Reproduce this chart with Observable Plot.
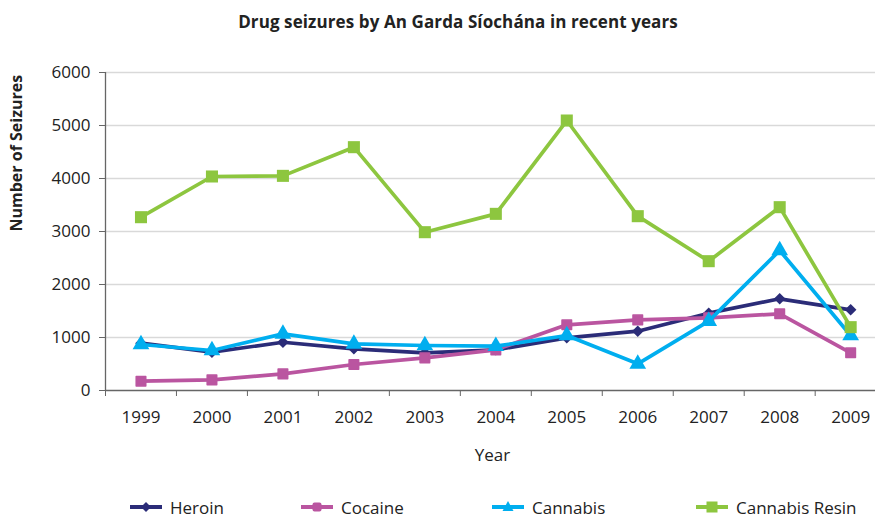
<!DOCTYPE html>
<html>
<head>
<meta charset="utf-8">
<script src="https://cdn.jsdelivr.net/npm/d3@7"></script>
<script src="https://cdn.jsdelivr.net/npm/@observablehq/plot@0.6"></script>
<style>
  body { margin: 0; background: #fff; font-family: "Open Sans", sans-serif; }
  #wrap { width: 875px; position: relative; }
  #title { height: 50px; line-height: 44px; font-weight: bold; font-size: 17px; color: #222; text-align: center; padding-left: 41px; box-sizing: border-box; letter-spacing: 0.1px; }
  #legend { position: relative; height: 37px; width: 875px; }
  .item { position: absolute; top: 15px; height: 24px; display: flex; align-items: center; font-size: 17px; color: #222; }
  .item svg { margin-right: 8px; }
</style>
</head>
<body>
<div id="wrap">
  <div id="title">Drug seizures by An Garda Síochána in recent years</div>
  <div id="chart"></div>
  <div id="legend"></div>
</div>
<script>
const years = [1999, 2000, 2001, 2002, 2003, 2004, 2005, 2006, 2007, 2008, 2009];
const heroin = [893, 723, 911, 786, 711, 767, 994, 1119, 1459, 1730, 1522];
const cocaine = [176, 201, 314, 490, 616, 767, 1239, 1333, 1371, 1447, 711];
const cannabis = [868, 755, 1069, 880, 849, 836, 1038, 503, 1308, 2642, 1038];
const cannabisResin = [3270, 4038, 4050, 4591, 2987, 3333, 5094, 3289, 2440, 3459, 1195];
const yTicks = [0, 1000, 2000, 3000, 4000, 5000, 6000];
const seriesNames = ["Heroin", "Cocaine", "Cannabis", "Cannabis Resin"];
const seriesValues = [heroin, cocaine, cannabis, cannabisResin];
const colors = ["#2B2C78", "#BA55A0", "#00AEEF", "#8DC63F"];
const symbols = ["diamond2", "square", "triangle", "square"];
const sizes = [5.2, 5.4, 6.2, 6.8];

const boundaries = years.map(y => y - 0.5);
const rows = [];
seriesNames.forEach((s, i) => years.forEach((y, j) => rows.push({series: s, year: y, value: seriesValues[i][j]})));

const marks = [
  Plot.gridY(yTicks.filter(d => d > 0), {stroke: "#d9d9d9", strokeOpacity: 1, strokeWidth: 1.3}),
  Plot.ruleY([0], {stroke: "#666", strokeWidth: 1.3}),
  Plot.ruleX([1998.5], {stroke: "#666", strokeWidth: 1.3}),
  Plot.axisY(yTicks, {tickSize: 6, tickPadding: 9, stroke: "#666", fontSize: 17, fill: "#222", label: null, tickFormat: d => String(d)}),
  Plot.axisX(boundaries, {tickSize: 6, tickFormat: () => "", stroke: "#666", label: null}),
  Plot.axisX(years, {tickSize: 0, tickPadding: 20, fontSize: 17, fill: "#222", label: null, tickFormat: d => String(d)}),
  Plot.text(["Year"], {frameAnchor: "bottom", dy: 70, fontSize: 17, fill: "#222", dx: 2}),
  Plot.text(["Number of Seizures"], {frameAnchor: "left", rotate: -90, dx: -89, fontSize: 16, fontWeight: "bold", fill: "#222"})
];
seriesNames.forEach((s, i) => {
  const data = rows.filter(r => r.series === s);
  marks.push(Plot.line(data, {x: "year", y: "value", stroke: colors[i], strokeWidth: 3.7}));
  marks.push(Plot.dot(data, {x: "year", y: "value", fill: colors[i], symbol: symbols[i], r: sizes[i], stroke: colors[i], strokeWidth: i === 1 ? 1.5 : 0, strokeLinejoin: "round"}));
});

const chart = Plot.plot({
  width: 875,
  height: 430,
  marginTop: 22,
  marginBottom: 90,
  marginLeft: 105,
  marginRight: 0,
  style: {fontFamily: "Open Sans, sans-serif", background: "#fff"},
  x: {type: "linear", domain: [1998.5, 2009.35], axis: null},
  y: {domain: [0, 6000], axis: null},
  marks
});
document.getElementById("chart").appendChild(chart);

// legend
const legendPos = [[130, 170], [301, 340], [492, 531], [696, 736]];
const legend = document.getElementById("legend");
const symbolPaths = {
  diamond2: '<path d="M16,6 L21,11 L16,16 L11,11 Z"/>',
  square: '<rect x="11.5" y="6.5" width="9" height="9" rx="2"/>',
  triangle: '<path d="M16,5 L21.5,15 L10.5,15 Z"/>',
  squareBig: '<rect x="10.5" y="5.5" width="11" height="11"/>'
};
seriesNames.forEach((s, i) => {
  const div = document.createElement("div");
  div.className = "item";
  div.style.left = legendPos[i][0] + "px";
  const key = i === 3 ? "squareBig" : symbols[i];
  div.innerHTML = `<svg width="32" height="22" viewBox="0 0 32 22"><line x1="0" y1="11" x2="32" y2="11" stroke="${colors[i]}" stroke-width="4"/><g fill="${colors[i]}">${symbolPaths[key]}</g></svg><span>${s}</span>`;
  legend.appendChild(div);
});
</script>
</body>
</html>
